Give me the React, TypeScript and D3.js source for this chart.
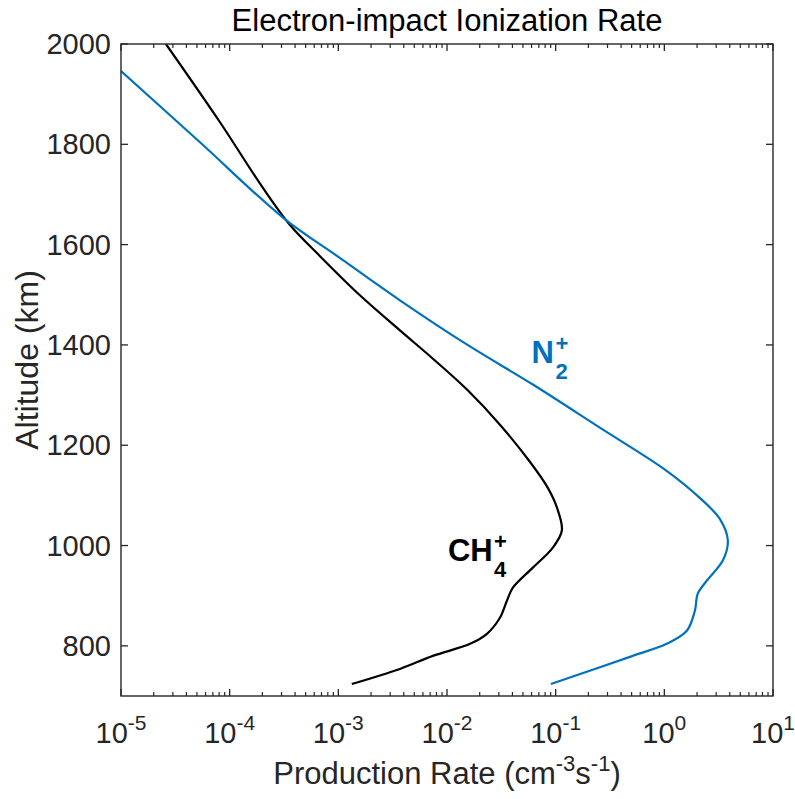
import React from "react";
import * as d3 from "d3";

// N2+ production rate profile (altitude km, rate cm^-3 s^-1)
const n2Alt = [1946, 1804, 1654, 1573, 1489, 1401, 1321, 1235, 1149, 1095, 1053, 1010, 970, 930, 904, 870, 830, 804, 780, 724];
const n2Rate = [1.0e-5, 5.33e-5, 3.09e-4, 1.04e-3, 3.69e-3, 1.52e-2, 6.17e-2, 0.255, 1.05, 2.12, 3.24, 3.84, 3.45, 2.46, 2.03, 1.91, 1.61, 1.05, 0.513, 0.0904];

// CH4+ production rate profile
const ch4Alt = [2000, 1844, 1716, 1639, 1577, 1499, 1429, 1369, 1309, 1241, 1167, 1115, 1075, 1030, 996, 956, 916, 890, 856, 824, 804, 780, 754, 724];
const ch4Rate = [2.59e-5, 8.15e-5, 1.98e-4, 3.59e-4, 6.78e-4, 1.58e-3, 3.69e-3, 7.74e-3, 1.56e-2, 3.07e-2, 5.79e-2, 8.47e-2, 0.103, 0.114, 0.0942, 0.0617, 0.0404, 0.0356, 0.0307, 0.0233, 0.0163, 0.00741, 0.00369, 0.00133];

const xTickExps = [-5, -4, -3, -2, -1, 0, 1];
const yTicks = [800, 1000, 1200, 1400, 1600, 1800, 2000];

const title = "Electron-impact Ionization Rate";
const xLabelMain = "Production Rate (cm";
const yLabel = "Altitude (km)";

const W = 795;
const H = 799;
const L = 121, R = 773, T = 44, B = 696;
const FONT = "Helvetica, 'Liberation Sans', Arial, sans-serif";
const AX = "#262626";
const BLUE = "#0072BD";

export default function App() {
  const x = d3.scaleLog().domain([1e-5, 10]).range([L, R]);
  const y = d3.scaleLinear().domain([700, 2000]).range([B, T]);

  const line = d3
    .line<[number, number]>()
    .x((d) => x(d[0]))
    .y((d) => y(d[1]))
    .curve(d3.curveCatmullRom.alpha(0.5));

  const n2 = n2Alt.map((a, i) => [n2Rate[i], a] as [number, number]);
  const ch4 = ch4Alt.map((a, i) => [ch4Rate[i], a] as [number, number]);

  const minor: number[] = [];
  for (let e = -5; e < 1; e++) {
    for (let m = 2; m <= 9; m++) minor.push(m * Math.pow(10, e));
  }

  const majLen = 7;
  const minLen = 4;

  const n2LabelX = x(0.06);
  const n2LabelY = y(1363);
  const chLabelX = x(0.0102);
  const chLabelY = y(970);

  return (
    <svg
      width={W}
      height={H}
      style={{ position: "absolute", left: 0, top: 0, background: "#fff" }}
      fontFamily={FONT}
    >
      <rect x={0} y={0} width={W} height={H} fill="#fff" />
      <defs>
        <clipPath id="plotclip">
          <rect x={L} y={T} width={R - L} height={B - T} />
        </clipPath>
      </defs>

      <g clipPath="url(#plotclip)">
        <path d={line(ch4) || ""} fill="none" stroke="#000" strokeWidth={2.2} strokeLinejoin="round" />
        <path d={line(n2) || ""} fill="none" stroke={BLUE} strokeWidth={2.2} strokeLinejoin="round" />
      </g>

      <rect x={L} y={T} width={R - L} height={B - T} fill="none" stroke={AX} strokeWidth={1.4} />

      {xTickExps.map((e) => {
        const px = x(Math.pow(10, e));
        return (
          <g key={"xt" + e}>
            <line x1={px} x2={px} y1={B} y2={B - majLen} stroke={AX} strokeWidth={1.3} />
            <line x1={px} x2={px} y1={T} y2={T + majLen} stroke={AX} strokeWidth={1.3} />
            <text x={px} y={743} textAnchor="middle" fontSize={29} fill={AX}>
              <tspan>10</tspan>
              <tspan dy={-13} fontSize={21}>{String(e)}</tspan>
            </text>
          </g>
        );
      })}
      {minor.map((v, i) => {
        const px = x(v);
        return (
          <g key={"mn" + i}>
            <line x1={px} x2={px} y1={B} y2={B - minLen} stroke={AX} strokeWidth={1.2} />
            <line x1={px} x2={px} y1={T} y2={T + minLen} stroke={AX} strokeWidth={1.2} />
          </g>
        );
      })}

      {yTicks.map((v) => {
        const py = y(v);
        return (
          <g key={"yt" + v}>
            <line x1={L} x2={L + majLen} y1={py} y2={py} stroke={AX} strokeWidth={1.3} />
            <line x1={R} x2={R - majLen} y1={py} y2={py} stroke={AX} strokeWidth={1.3} />
            <text x={111} y={py + 10} textAnchor="end" fontSize={29} fill={AX}>
              {v}
            </text>
          </g>
        );
      })}

      <text x={(L + R) / 2} y={31} textAnchor="middle" fontSize={31} fill="#000">
        {title}
      </text>

      <text x={(L + R) / 2} y={784} textAnchor="middle" fontSize={31} fill={AX}>
        <tspan>{xLabelMain}</tspan>
        <tspan dy={-13} fontSize={22}>-3</tspan>
        <tspan dy={13}>s</tspan>
        <tspan dy={-13} fontSize={22}>-1</tspan>
        <tspan dy={13}>)</tspan>
      </text>

      <text
        transform={`translate(38, ${(T + B) / 2 - 10}) rotate(-90)`}
        textAnchor="middle"
        fontSize={32}
        fill={AX}
      >
        {yLabel}
      </text>

      <g fontWeight="bold" fill={BLUE}>
        <text x={n2LabelX} y={n2LabelY} fontSize={31}>N</text>
        <text x={n2LabelX + 24} y={n2LabelY + 16} fontSize={22}>2</text>
        <text x={n2LabelX + 24} y={n2LabelY - 12} fontSize={22}>+</text>
      </g>
      <g fontWeight="bold" fill="#000">
        <text x={chLabelX} y={chLabelY} fontSize={31}>CH</text>
        <text x={chLabelX + 46} y={chLabelY + 16} fontSize={22}>4</text>
        <text x={chLabelX + 46} y={chLabelY - 12} fontSize={22}>+</text>
      </g>
    </svg>
  );
}
